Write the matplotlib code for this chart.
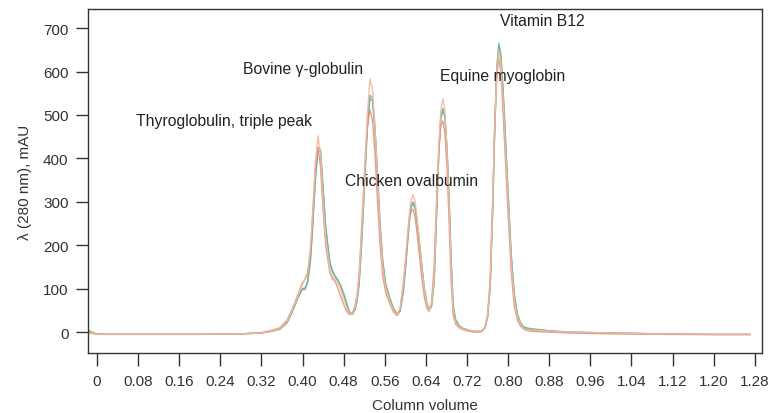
import matplotlib
matplotlib.use("Agg")
import matplotlib.pyplot as plt

plt.rcParams['font.family'] = ['Liberation Sans', 'DejaVu Sans']

# Column volume sample positions (shared by all runs)
cv = [-0.015, -0.005, 0.0, 0.02, 0.1, 0.2, 0.28, 0.32, 0.34, 0.356,
      0.37, 0.381, 0.39, 0.399, 0.405, 0.41, 0.415, 0.418, 0.421, 0.425,
      0.43, 0.435, 0.44, 0.445, 0.453, 0.458, 0.463, 0.469, 0.475, 0.482,
      0.488, 0.492, 0.497, 0.502, 0.506, 0.51, 0.514, 0.518, 0.522, 0.526,
      0.531, 0.536, 0.541, 0.546, 0.551, 0.556, 0.562, 0.570, 0.577, 0.584,
      0.59, 0.596, 0.601, 0.605, 0.609, 0.612, 0.615, 0.619, 0.623, 0.628,
      0.632, 0.637, 0.642, 0.646, 0.651, 0.656, 0.661, 0.665, 0.669, 0.673,
      0.677, 0.681, 0.685, 0.689, 0.693, 0.698, 0.705, 0.712, 0.72, 0.73,
      0.739, 0.748, 0.755, 0.760, 0.765, 0.770, 0.774, 0.778, 0.782, 0.786,
      0.790, 0.795, 0.800, 0.806, 0.812, 0.818, 0.824, 0.829, 0.835, 0.845,
      0.86, 0.88, 0.92, 1.0, 1.1, 1.2, 1.27]

run_teal = [2, -3, -5, -5, -5, -5, -4, -2, 2, 7,
            22, 50, 76, 98, 98, 116, 160, 210, 270, 350,
            418, 415, 328, 242, 162, 142, 130, 120, 105, 80,
            56, 44, 42, 52, 72, 112, 188, 280, 380, 470,
            538, 532, 462, 352, 240, 160, 106, 75, 52, 40,
            48, 92, 155, 215, 270, 290, 295, 285, 252, 198,
            152, 100, 66, 50, 60, 118, 280, 410, 492, 510,
            495, 420, 310, 165, 60, 26, 14, 8, 5, 2,
            1, 2, 10, 35, 102, 285, 472, 605, 658, 632,
            555, 438, 315, 175, 84, 40, 20, 12, 8, 6,
            5, 3, 0, -2, -4, -5, -5]

run_green = [3, -2, -4, -5, -5, -5, -4, -2, 2, 7,
             22, 50, 76, 100, 102, 118, 165, 215, 275, 360,
             425, 420, 330, 240, 160, 140, 128, 118, 105, 82,
             58, 45, 42, 52, 72, 110, 185, 275, 375, 470,
             545, 540, 470, 360, 245, 165, 110, 78, 55, 42,
             50, 95, 160, 220, 275, 295, 300, 290, 255, 200,
             155, 100, 65, 52, 60, 115, 275, 410, 495, 515,
             500, 425, 315, 170, 62, 28, 15, 9, 6, 3,
             2, 2, 10, 35, 100, 280, 470, 610, 665, 640,
             565, 445, 320, 180, 88, 42, 22, 14, 10, 8,
             6, 3, 0, -2, -4, -5, -5]

run_orange = [-2, -4, -5, -5, -5, -5, -4, -1, 4, 10,
              28, 56, 84, 112, 122, 135, 185, 240, 300, 380,
              425, 380, 280, 200, 138, 122, 118, 100, 80, 58,
              44, 40, 44, 60, 85, 135, 220, 310, 400, 470,
              512, 490, 410, 300, 200, 130, 90, 65, 46, 38,
              55, 110, 175, 230, 268, 280, 283, 265, 225, 170,
              125, 80, 55, 48, 70, 150, 310, 420, 475, 486,
              460, 380, 260, 120, 40, 18, 10, 6, 3, 1,
              0, 1, 10, 40, 120, 310, 480, 590, 628, 600,
              510, 390, 270, 140, 60, 28, 14, 8, 4, 2,
              1, 0, -2, -4, -5, -6, -6]

run_salmon = [0, -3, -5, -5, -5, -5, -4, -2, 2, 8,
              25, 53, 80, 108, 125, 140, 190, 240, 300, 390,
              452, 410, 300, 215, 145, 128, 122, 112, 95, 70,
              50, 42, 45, 58, 80, 125, 210, 300, 400, 500,
              583, 560, 470, 350, 230, 150, 100, 72, 50, 40,
              55, 110, 175, 235, 285, 308, 316, 300, 260, 200,
              150, 95, 62, 50, 65, 130, 300, 430, 510, 537,
              510, 420, 300, 150, 50, 22, 12, 8, 5, 3,
              2, 3, 12, 40, 110, 300, 480, 600, 650, 620,
              540, 420, 300, 160, 75, 35, 18, 10, 6, 5,
              4, 2, 0, -2, -4, -5, -5]

x_ticks = [0, 0.08, 0.16, 0.24, 0.32, 0.40, 0.48, 0.56, 0.64, 0.72,
           0.80, 0.88, 0.96, 1.04, 1.12, 1.20, 1.28]
x_tick_labels = ['0', '0.08', '0.16', '0.24', '0.32', '0.40', '0.48', '0.56',
                 '0.64', '0.72', '0.80', '0.88', '0.96', '1.04', '1.12',
                 '1.20', '1.28']
y_ticks = [0, 100, 200, 300, 400, 500, 600, 700]

peak_names = ['Thyroglobulin, triple peak', 'Bovine γ-globulin',
              'Chicken ovalbumin', 'Equine myoglobin', 'Vitamin B12']
peak_label_x = [0.076, 0.284, 0.482, 0.667, 0.784]
peak_label_y = [488, 606, 348, 592, 717]

fig = plt.figure(figsize=(7.71, 4.14), dpi=100)
ax = fig.add_axes([88/771, 60/414, 674/771, 344/414])

runs = [(run_teal, '#5fb5b6'), (run_green, '#69b98a'),
        (run_orange, '#e8907a'), (run_salmon, '#f5b7a3')]
for ys, col in runs:
    ax.plot(cv, ys, color=col, lw=1.0, alpha=0.9)

ax.set_xlim(-0.0175, 1.294)
ax.set_ylim(-48, 744)
ax.set_xticks(x_ticks)
ax.set_xticklabels(x_tick_labels)
ax.set_yticks(y_ticks)

txt = '#333333'
for s in ax.spines.values():
    s.set_color('#333333')
    s.set_linewidth(1.0)
ax.tick_params(direction='out', length=9, width=1.0, color='#333333',
               labelsize=11, labelcolor=txt, pad=5)
ax.tick_params(axis='x', pad=6)

ax.set_xlabel('Column volume', fontsize=11, color=txt, labelpad=7)
ax.set_ylabel('λ (280 nm), mAU', fontsize=11, color=txt, labelpad=8)

for name, lx, ly in zip(peak_names, peak_label_x, peak_label_y):
    ax.text(lx, ly, name, fontsize=11.3, color='#222222', ha='left', va='center')

fig.savefig('out.png', dpi=100)
